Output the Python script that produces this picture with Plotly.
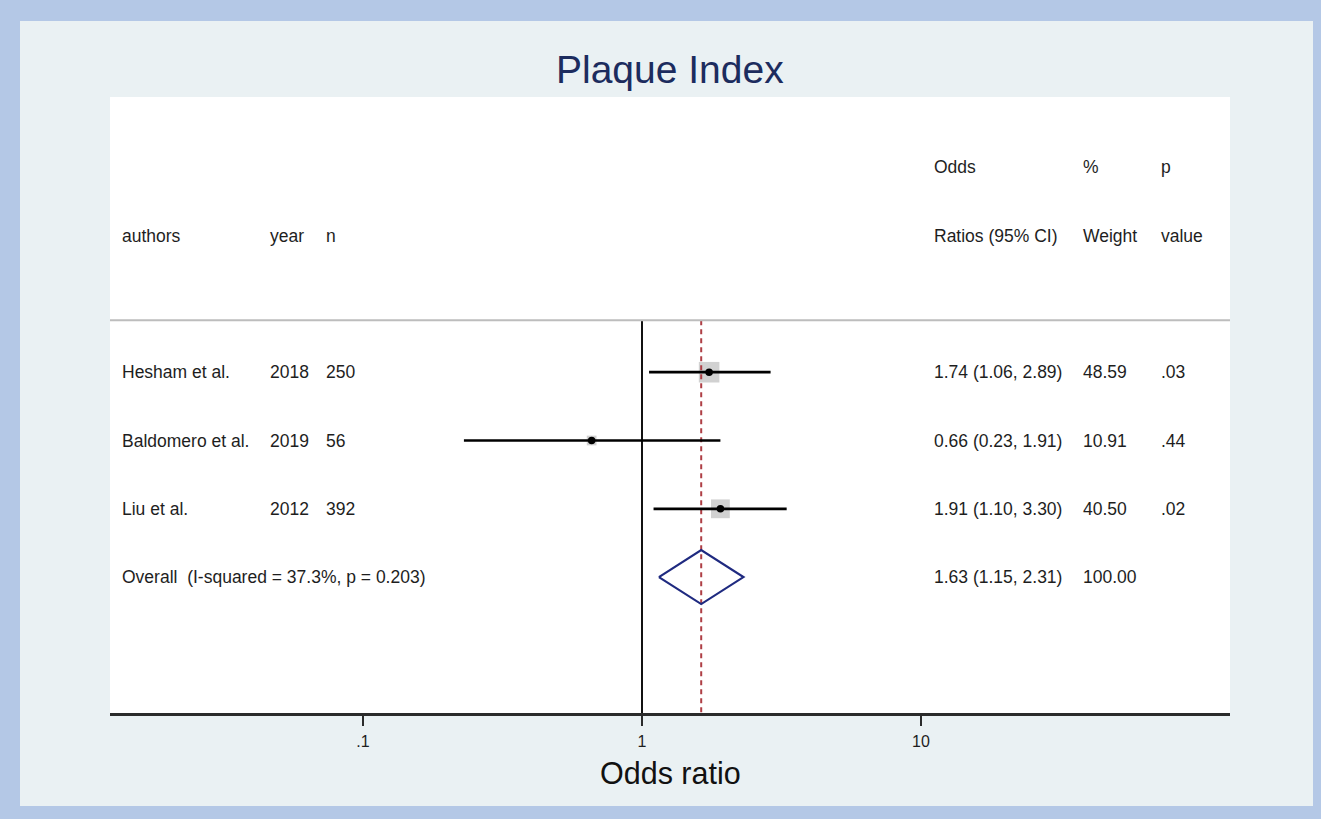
import plotly.graph_objects as go
import math

# ---------------- data ----------------
authors = ["Hesham et al.", "Baldomero et al.", "Liu et al."]
years = ["2018", "2019", "2012"]
n_sizes = ["250", "56", "392"]
odds = [1.74, 0.66, 1.91]
ci_low = [1.06, 0.23, 1.10]
ci_high = [2.89, 1.91, 3.30]
weights = [48.59, 10.91, 40.50]
p_values = [".03", ".44", ".02"]
overall_label = "Overall  (I-squared = 37.3%, p = 0.203)"
overall_or = 1.63
overall_low = 1.15
overall_high = 2.31
overall_weight = "100.00"
tick_vals = [0.1, 1, 10]
tick_text = [".1", "1", "10"]

# ---------------- layout geometry ----------------
W, H = 1321, 819
L, R, T, B = 110, 1230, 97, 713
PW, PH = R - L, B - T

def px(x):
    return (x - L) / PW

def py(y):
    return (B - y) / PH

rows = [1, 2, 3]
overall_row = 4
y_top, y_bot = -3.03, 5.99
sep_row = 0.24

FONT = "Liberation Sans, Arial, sans-serif"
TXT = "#1e1e1e"
FS = 17.5

fig = go.Figure()

# null line x=1
fig.add_trace(go.Scatter(x=[1, 1], y=[sep_row, y_bot], mode="lines",
                         line=dict(color="#111111", width=2),
                         hoverinfo="skip", showlegend=False))

# weight boxes
fig.add_trace(go.Scatter(x=odds, y=rows, mode="markers",
                         marker=dict(symbol="square", color="#BDBDBD",
                                     size=[2.95 * math.sqrt(w) for w in weights],
                                     line=dict(width=0)),
                         hoverinfo="skip", showlegend=False))

# overall dashed line
fig.add_trace(go.Scatter(x=[overall_or, overall_or], y=[sep_row, y_bot], mode="lines",
                         line=dict(color="#AE3F45", width=2, dash="5px,4px"),
                         hoverinfo="skip", showlegend=False))

# CI lines
cx, cy = [], []
for lo, hi, r in zip(ci_low, ci_high, rows):
    cx += [lo, hi, None]
    cy += [r, r, None]
fig.add_trace(go.Scatter(x=cx, y=cy, mode="lines",
                         line=dict(color="black", width=2.7),
                         hoverinfo="skip", showlegend=False))

# point estimates
fig.add_trace(go.Scatter(x=odds, y=rows, mode="markers",
                         marker=dict(symbol="circle", color="black", size=7.5),
                         hoverinfo="skip", showlegend=False))

# diamond
hh = 0.395
fig.add_trace(go.Scatter(
    x=[overall_low, overall_or, overall_high, overall_or, overall_low],
    y=[overall_row, overall_row - hh, overall_row, overall_row + hh, overall_row],
    mode="lines", line=dict(color="#1F2A80", width=2.2),
    hoverinfo="skip", showlegend=False))

shapes = []
# separator
shapes.append(dict(type="line", xref="paper", yref="y", x0=0, x1=1,
                   y0=sep_row, y1=sep_row, line=dict(color="#BDBDBD", width=2)))
# outer blue frame
BLUE = "#B4C8E6"
for (x0, x1, y0, y1) in [(-2, 20, -2, 822), (-2, 1324, -2, 21),
                         (1313, 1324, -2, 822), (-2, 1324, 806, 822)]:
    shapes.append(dict(type="rect", xref="paper", yref="paper",
                       x0=px(x0), x1=px(x1), y0=py(y1), y1=py(y0),
                       fillcolor=BLUE, line=dict(width=0), layer="above"))

ann = []
def txt(x, y, s, size=FS, color=TXT, xanchor="left", yref="y"):
    ann.append(dict(x=px(x - 2), y=y, xref="paper", yref=yref, text=s,
                    showarrow=False, xanchor=xanchor, yanchor="middle",
                    font=dict(family=FONT, size=size, color=color)))

# headers
txt(122, -1, "authors")
txt(270, -1, "year")
txt(326, -1, "n")
txt(934, -2, "Odds")
txt(934, -1, "Ratios (95% CI)")
txt(1083, -2, "%")
txt(1083, -1, "Weight")
txt(1161, -2, "p")
txt(1161, -1, "value")

for a, yr, n, o, lo, hi, w, p, r in zip(authors, years, n_sizes, odds, ci_low,
                                         ci_high, weights, p_values, rows):
    txt(122, r, a)
    txt(270, r, yr)
    txt(326, r, n)
    txt(934, r, f"{o:.2f} ({lo:.2f}, {hi:.2f})")
    txt(1083, r, f"{w:.2f}")
    txt(1161, r, p)

txt(122, overall_row, overall_label)
txt(934, overall_row, f"{overall_or:.2f} ({overall_low:.2f}, {overall_high:.2f})")
txt(1083, overall_row, overall_weight)

# title and axis title
ann.append(dict(x=px(670), y=py(69), xref="paper", yref="paper", text="Plaque Index",
                showarrow=False, xanchor="center", yanchor="middle",
                font=dict(family=FONT, size=39, color="#1C2C5E")))
ann.append(dict(x=px(670), y=py(773), xref="paper", yref="paper", text="Odds ratio",
                showarrow=False, xanchor="center", yanchor="middle",
                font=dict(family=FONT, size=30.5, color="#111111")))

x_left = (L - 642) / 279.0
x_right = (R - 642) / 279.0

fig.update_layout(
    width=W, height=H,
    margin=dict(l=L, r=W - R, t=T, b=H - B, pad=0),
    paper_bgcolor="#EAF1F3",
    plot_bgcolor="white",
    shapes=shapes,
    annotations=ann,
    showlegend=False,
    xaxis=dict(type="log", range=[x_left, x_right], tickvals=tick_vals,
               ticktext=tick_text, showgrid=False, zeroline=False,
               showline=True, linecolor="#2b2b2b", linewidth=2.5,
               ticks="outside", ticklen=10, tickwidth=2, tickcolor="#2b2b2b",
               ticklabelstandoff=2,
               tickfont=dict(family=FONT, size=16, color=TXT), fixedrange=True),
    yaxis=dict(range=[y_bot, y_top], visible=False, showgrid=False,
               zeroline=False, fixedrange=True),
)

fig.write_html(
    "out.html",
    config={"displayModeBar": False},
    post_script="document.body.style.margin='0';document.body.style.padding='0';"
                "document.body.style.background='#B4C8E6';"
                "document.documentElement.style.overflow='hidden';",
)
